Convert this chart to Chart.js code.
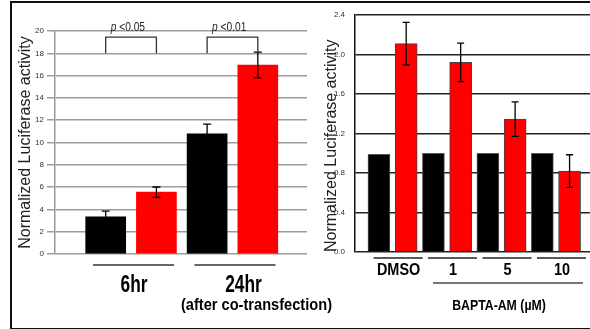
<!DOCTYPE html>
<html>
<head>
<meta charset="utf-8">
<script src="https://cdn.jsdelivr.net/npm/chart.js@4.4.1/dist/chart.umd.min.js"></script>
<style>
  body { margin: 0; background: #fff; }
  #wrap { position: relative; width: 590px; height: 329px; overflow: hidden; }
  canvas { position: absolute; left: 0; top: 0; }
  #frame { position: absolute; left: 10px; top: 1px; width: 600px; height: 325px; border: 2px solid #111; }
</style>
</head>
<body>
<div id="wrap">
  <div id="frame"></div>
  <canvas id="timeChart" width="590" height="329"></canvas>
  <canvas id="baptaChart" width="590" height="329"></canvas>
</div>
<script>
// left panel: time after co-transfection
const timeLabels = ['6hr', '24hr'];
const timeControl = [3.34, 10.77];
const timeControlErr = [0.51, 0.87];
const timeTreated = [5.55, 16.95];
const timeTreatedErr = [0.46, 1.15];
const timePValues = ['<0.05', '<0.01'];
const timeTicks = [0, 2, 4, 6, 8, 10, 12, 14, 16, 18, 20];

// right panel: BAPTA-AM dose
const doseLabels = ['DMSO', '1', '5', '10'];
const doseControl = [0.99, 1.0, 1.0, 1.0];
const doseTreated = [2.11, 1.92, 1.345, 0.82];
const doseTreatedErr = [0.215, 0.195, 0.175, 0.165];
const doseTicks = [0, 0.4, 0.8, 1.2, 1.6, 2.0, 2.4];

const SANS = "'Liberation Sans', Arial, sans-serif";
const YTITLE = 'Normalized Luciferase activity';

Chart.defaults.font.family = SANS;
Chart.defaults.color = '#222';

// each group -> black bar at 2i+1, red bar at 2i+2 on a linear x scale
const asPoints = (vals, shift) => vals.map((v, i) => ({ x: 2 * i + shift, y: v }));

// no narrow font installed, so squeeze text horizontally
function narrowText(ctx, text, x, y, font, sx) {
    ctx.save();
    ctx.font = font;
    ctx.textAlign = 'center';
    ctx.textBaseline = 'middle';
    ctx.translate(x, y);
    ctx.scale(sx, 1);
    ctx.fillText(text, 0, 0);
    ctx.restore();
}

const errorBars = {
    id: 'errorBars',
    afterDatasetsDraw(chart, args, opts) {
        const ctx = chart.ctx;
        const y = chart.scales.y;
        chart.data.datasets.forEach((ds, i) => {
            if (!ds.errors) return;
            const meta = chart.getDatasetMeta(i);
            meta.data.forEach((bar, j) => {
                const e = ds.errors[j];
                if (!e) return;
                const v = ds.data[j].y;
                const top = y.getPixelForValue(v + e);
                const bot = y.getPixelForValue(v - e);
                ctx.save();
                ctx.strokeStyle = '#000';
                ctx.lineWidth = 1.3;
                ctx.beginPath();
                ctx.moveTo(bar.x, top); ctx.lineTo(bar.x, bot);
                ctx.moveTo(bar.x - opts.cap, top); ctx.lineTo(bar.x + opts.cap, top);
                ctx.moveTo(bar.x - opts.cap, bot); ctx.lineTo(bar.x + opts.cap, bot);
                ctx.stroke();
                ctx.restore();
            });
        });
    }
};

const timeDecor = {
    id: 'timeDecor',
    afterDraw(chart) {
        const ctx = chart.ctx;
        const y = chart.scales.y;
        const area = chart.chartArea;
        const black = chart.getDatasetMeta(0).data;
        const red = chart.getDatasetMeta(1).data;
        ctx.save();
        timeLabels.forEach((lab, i) => {
            const c = (black[i].x + red[i].x) / 2;
            // underline
            ctx.strokeStyle = '#666';
            ctx.lineWidth = 2;
            ctx.beginPath();
            ctx.moveTo(c - 38, area.bottom + 11);
            ctx.lineTo(c + 43, area.bottom + 11);
            ctx.stroke();
            ctx.fillStyle = '#000';
            narrowText(ctx, lab, c + (i ? 11 : 3), area.bottom + 31, 'bold 24px ' + SANS, 0.72);

            // significance bracket
            const yTop = y.getPixelForValue(19.45);
            const yLeg = y.getPixelForValue(18);
            ctx.strokeStyle = '#333';
            ctx.lineWidth = 1.3;
            ctx.beginPath();
            ctx.moveTo(black[i].x, yLeg);
            ctx.lineTo(black[i].x, yTop);
            ctx.lineTo(red[i].x, yTop);
            ctx.lineTo(red[i].x, yLeg);
            ctx.stroke();
            ctx.save();
            ctx.fillStyle = '#222';
            ctx.textBaseline = 'middle';
            ctx.translate(black[i].x + 5, yTop - 9);
            ctx.scale(0.85, 1);
            ctx.font = 'italic 12px ' + SANS;
            ctx.fillText('p', 0, 0);
            const pw = ctx.measureText('p ').width;
            ctx.font = '12px ' + SANS;
            ctx.fillText(timePValues[i], pw, 0);
            ctx.restore();
        });
        const c2 = (black[1].x + red[1].x) / 2;
        ctx.fillStyle = '#000';
        narrowText(ctx, '(after co-transfection)', c2 + 24, area.bottom + 51, 'bold 17px ' + SANS, 0.86);
        ctx.restore();
    }
};

const doseDecor = {
    id: 'doseDecor',
    afterDraw(chart) {
        const ctx = chart.ctx;
        const area = chart.chartArea;
        const black = chart.getDatasetMeta(0).data;
        const red = chart.getDatasetMeta(1).data;
        const centers = doseLabels.map((l, i) => (black[i].x + red[i].x) / 2 + 6);
        ctx.save();
        ctx.fillStyle = '#000';
        doseLabels.forEach((lab, i) => {
            const c = centers[i];
            ctx.strokeStyle = '#222';
            ctx.lineWidth = 1.5;
            ctx.beginPath();
            ctx.moveTo(c - 25, area.bottom + 6);
            ctx.lineTo(c + 24, area.bottom + 6);
            ctx.stroke();
            narrowText(ctx, lab, c, area.bottom + 18, 'bold 17px ' + SANS, 0.85);
        });
        const x0 = centers[1] - 20, x1 = centers[3] + 21;
        ctx.strokeStyle = '#777';
        ctx.lineWidth = 2;
        ctx.beginPath();
        ctx.moveTo(x0, area.bottom + 31);
        ctx.lineTo(x1, area.bottom + 31);
        ctx.stroke();
        narrowText(ctx, 'BAPTA-AM (\u00b5M)', (x0 + x1) / 2 - 9, area.bottom + 54, 'bold 15px ' + SANS, 0.82);
        ctx.restore();
    }
};

// Time chart
new Chart(document.getElementById('timeChart').getContext('2d'), {
    type: 'bar',
    data: {
        datasets: [
            { data: asPoints(timeControl, 1), errors: timeControlErr, backgroundColor: '#000', grouped: false, barThickness: 40 },
            { data: asPoints(timeTreated, 2), errors: timeTreatedErr, backgroundColor: '#ff0000', grouped: false, barThickness: 40 }
        ]
    },
    options: {
        responsive: false,
        animation: false,
        layout: { padding: { left: 0, top: 31, right: 283, bottom: 75 } },
        plugins: { legend: { display: false }, tooltip: { enabled: false }, errorBars: { cap: 4 } },
        scales: {
            x: { type: 'linear', min: 0, max: 4.97, offset: false, display: false },
            y: {
                min: 0, max: 20,
                afterFit: (s) => { s.width = 55; },
                afterBuildTicks: (s) => { s.ticks = timeTicks.map(v => ({ value: v })); },
                border: { color: '#999', width: 1.5 },
                grid: { color: '#9c9c9c', lineWidth: 1.5, tickLength: 8 },
                ticks: { padding: 3, color: '#333', font: { size: 8 } },
                title: { display: true, text: YTITLE, color: '#222', font: { size: 16 }, padding: { top: 16, bottom: 0 } }
            }
        }
    },
    plugins: [errorBars, timeDecor]
});

// BAPTA-AM chart
new Chart(document.getElementById('baptaChart').getContext('2d'), {
    type: 'bar',
    data: {
        datasets: [
            { data: asPoints(doseControl, 1), backgroundColor: '#000', borderColor: '#555', borderWidth: 1, grouped: false, barThickness: 22 },
            { data: asPoints(doseTreated, 2), errors: doseTreatedErr, backgroundColor: '#ff0000', borderColor: '#444', borderWidth: 1, grouped: false, barThickness: 22 }
        ]
    },
    options: {
        responsive: false,
        animation: false,
        layout: { padding: { left: 300, top: 15, right: 0, bottom: 77 } },
        plugins: { legend: { display: false }, tooltip: { enabled: false }, errorBars: { cap: 3.5 } },
        scales: {
            x: { type: 'linear', min: 0.12, max: 8.75, offset: false, display: false },
            y: {
                min: 0, max: 2.4,
                afterFit: (s) => { s.width = 55; },
                afterBuildTicks: (s) => { s.ticks = doseTicks.map(v => ({ value: v })); },
                border: { color: '#111', width: 1.5 },
                grid: { color: '#222', lineWidth: 1.5, drawTicks: false },
                ticks: { padding: 10, color: '#333', font: { size: 8 }, callback: (v) => v.toFixed(1) },
                title: { display: true, text: YTITLE, color: '#222', align: 'start', font: { size: 16 }, padding: { top: 22, bottom: 0 } }
            }
        }
    },
    plugins: [errorBars, doseDecor]
});
</script>
</body>
</html>
